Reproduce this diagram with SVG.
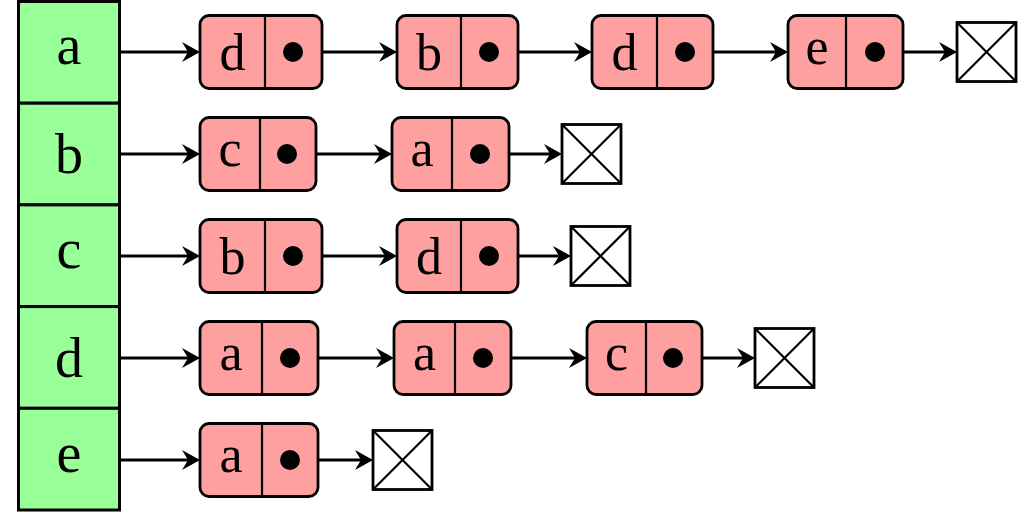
<svg xmlns="http://www.w3.org/2000/svg" width="1018" height="512" viewBox="0 0 1018 512">
<style>
.col{fill:#99ff99;stroke:#000;stroke-width:3}
.nd{fill:#ffa0a0;stroke:#000;stroke-width:2.8}
.dv{stroke:#000;stroke-width:2.2}
.dot{fill:#000}
.nl{fill:#fff;stroke:#000;stroke-width:2.8}
.x{stroke:#000;stroke-width:2.2}
.lbl{font-family:"Liberation Serif","DejaVu Serif",serif;font-size:52px;text-anchor:middle;fill:#000}
.big{font-size:56px}
.conn line{stroke:#000;stroke-width:2.8;marker-end:url(#ah)}
</style>
<defs>
<marker id="ah" markerUnits="userSpaceOnUse" viewBox="-20 -14 24 28" refX="0" refY="0" markerWidth="24" markerHeight="28" orient="auto">
<path d="M3,0 L-15,-10 L-9,0 L-15,10 Z" fill="#000"/>
</marker>
</defs>
<rect width="1018" height="512" fill="#fff"/>
<g id="table">
<rect class="col" x="18.5" y="1.5" width="101" height="101.7"/>
<rect class="col" x="18.5" y="103.2" width="101" height="101.7"/>
<rect class="col" x="18.5" y="204.9" width="101" height="101.7"/>
<rect class="col" x="18.5" y="306.6" width="101" height="101.7"/>
<rect class="col" x="18.5" y="408.3" width="101" height="101.7"/>
<text class="lbl big" x="69" y="64">a</text>
<text class="lbl big" x="69" y="173">b</text>
<text class="lbl big" x="69" y="268">c</text>
<text class="lbl big" x="69" y="377">d</text>
<text class="lbl big" x="69" y="472">e</text>
</g>
<g class="conn" id="connectors">
<line x1="120" y1="52" x2="197" y2="52"/>
<line x1="293" y1="52" x2="394" y2="52"/>
<line x1="489" y1="52" x2="589" y2="52"/>
<line x1="685" y1="52" x2="785" y2="52"/>
<line x1="875" y1="52" x2="954" y2="52"/>
<line x1="120" y1="154" x2="197" y2="154"/>
<line x1="287" y1="154" x2="389" y2="154"/>
<line x1="480" y1="154" x2="559" y2="154"/>
<line x1="120" y1="256" x2="197" y2="256"/>
<line x1="293" y1="256" x2="394" y2="256"/>
<line x1="489" y1="256" x2="568" y2="256"/>
<line x1="120" y1="358" x2="197" y2="358"/>
<line x1="290" y1="358" x2="391" y2="358"/>
<line x1="483" y1="358" x2="584" y2="358"/>
<line x1="673" y1="358" x2="752" y2="358"/>
<line x1="120" y1="460" x2="197" y2="460"/>
<line x1="290" y1="460" x2="370" y2="460"/>
</g>
<!-- row a -->
<g id="a1"><rect class="nd" x="200" y="15.5" width="122" height="73" rx="9"/><line class="dv" x1="265" y1="15.5" x2="265" y2="88.5"/><circle class="dot" cx="293" cy="52" r="10"/><text class="lbl" x="232.5" y="70">d</text></g>
<g id="a2"><rect class="nd" x="397" y="15.5" width="121" height="73" rx="9"/><line class="dv" x1="461" y1="15.5" x2="461" y2="88.5"/><circle class="dot" cx="489" cy="52" r="10"/><text class="lbl" x="429" y="70">b</text></g>
<g id="a3"><rect class="nd" x="592" y="15.5" width="121" height="73" rx="9"/><line class="dv" x1="657" y1="15.5" x2="657" y2="88.5"/><circle class="dot" cx="685" cy="52" r="10"/><text class="lbl" x="624.5" y="70">d</text></g>
<g id="a4"><rect class="nd" x="788" y="15.5" width="115" height="73" rx="9"/><line class="dv" x1="846" y1="15.5" x2="846" y2="88.5"/><circle class="dot" cx="875" cy="52" r="10"/><text class="lbl" x="817" y="64">e</text></g>
<g id="a_null"><rect class="nl" x="957" y="22.5" width="59" height="59"/><line class="x" x1="957" y1="22.5" x2="1016" y2="81.5"/><line class="x" x1="1016" y1="22.5" x2="957" y2="81.5"/></g>
<!-- row b -->
<g id="b1"><rect class="nd" x="200" y="117.5" width="116" height="73" rx="9"/><line class="dv" x1="260" y1="117.5" x2="260" y2="190.5"/><circle class="dot" cx="287" cy="154" r="10"/><text class="lbl" x="230" y="166">c</text></g>
<g id="b2"><rect class="nd" x="392" y="117.5" width="117" height="73" rx="9"/><line class="dv" x1="452" y1="117.5" x2="452" y2="190.5"/><circle class="dot" cx="480" cy="154" r="10"/><text class="lbl" x="422" y="166">a</text></g>
<g id="b_null"><rect class="nl" x="562" y="124.5" width="59" height="59"/><line class="x" x1="562" y1="124.5" x2="621" y2="183.5"/><line class="x" x1="621" y1="124.5" x2="562" y2="183.5"/></g>
<!-- row c -->
<g id="c1"><rect class="nd" x="200" y="219.5" width="122" height="73" rx="9"/><line class="dv" x1="265" y1="219.5" x2="265" y2="292.5"/><circle class="dot" cx="293" cy="256" r="10"/><text class="lbl" x="232.5" y="274">b</text></g>
<g id="c2"><rect class="nd" x="397" y="219.5" width="121" height="73" rx="9"/><line class="dv" x1="461" y1="219.5" x2="461" y2="292.5"/><circle class="dot" cx="489" cy="256" r="10"/><text class="lbl" x="429" y="274">d</text></g>
<g id="c_null"><rect class="nl" x="571" y="226.5" width="59" height="59"/><line class="x" x1="571" y1="226.5" x2="630" y2="285.5"/><line class="x" x1="630" y1="226.5" x2="571" y2="285.5"/></g>
<!-- row d -->
<g id="d1"><rect class="nd" x="200" y="321.5" width="118" height="73" rx="9"/><line class="dv" x1="262" y1="321.5" x2="262" y2="394.5"/><circle class="dot" cx="290" cy="358" r="10"/><text class="lbl" x="231" y="370">a</text></g>
<g id="d2"><rect class="nd" x="394" y="321.5" width="117" height="73" rx="9"/><line class="dv" x1="455" y1="321.5" x2="455" y2="394.5"/><circle class="dot" cx="483" cy="358" r="10"/><text class="lbl" x="424.5" y="370">a</text></g>
<g id="d3"><rect class="nd" x="587" y="321.5" width="115" height="73" rx="9"/><line class="dv" x1="646" y1="321.5" x2="646" y2="394.5"/><circle class="dot" cx="673" cy="358" r="10"/><text class="lbl" x="616.5" y="370">c</text></g>
<g id="d_null"><rect class="nl" x="755" y="328.5" width="59" height="59"/><line class="x" x1="755" y1="328.5" x2="814" y2="387.5"/><line class="x" x1="814" y1="328.5" x2="755" y2="387.5"/></g>
<!-- row e -->
<g id="e1"><rect class="nd" x="200" y="423.5" width="118" height="73" rx="9"/><line class="dv" x1="262" y1="423.5" x2="262" y2="496.5"/><circle class="dot" cx="290" cy="460" r="10"/><text class="lbl" x="231" y="472">a</text></g>
<g id="e_null"><rect class="nl" x="373" y="430.5" width="59" height="59"/><line class="x" x1="373" y1="430.5" x2="432" y2="489.5"/><line class="x" x1="432" y1="430.5" x2="373" y2="489.5"/></g>
</svg>
